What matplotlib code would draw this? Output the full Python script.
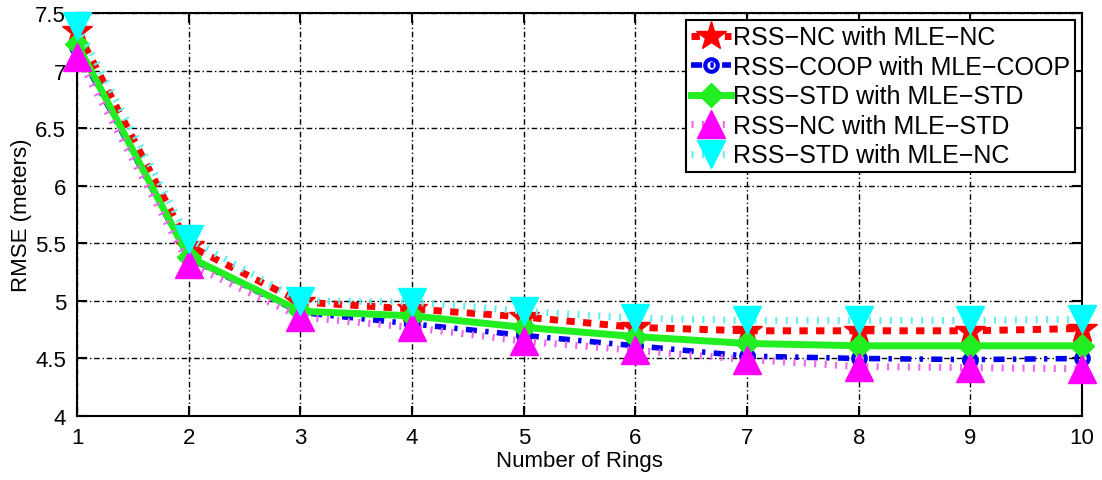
import numpy as np
import matplotlib
matplotlib.use('Agg')
from matplotlib import pyplot as plt

plt.rcParams['font.family'] = ['Liberation Sans', 'DejaVu Sans']

rings = [1, 2, 3, 4, 5, 6, 7, 8, 9, 10]
rmse_nc_nc = [7.34, 5.48, 4.99, 4.93, 4.86, 4.77, 4.74, 4.74, 4.74, 4.76]
rmse_coop_coop = [7.20, 5.37, 4.90, 4.80, 4.70, 4.61, 4.52, 4.50, 4.49, 4.50]
rmse_std_std = [7.23, 5.38, 4.91, 4.87, 4.77, 4.69, 4.63, 4.61, 4.61, 4.61]
rmse_nc_std = [7.12, 5.32, 4.86, 4.77, 4.65, 4.57, 4.49, 4.43, 4.42, 4.41]
rmse_std_nc = [7.39, 5.54, 5.00, 4.99, 4.91, 4.85, 4.83, 4.83, 4.83, 4.84]
labels = ['RSS\u2212NC with MLE\u2212NC', 'RSS\u2212COOP with MLE\u2212COOP',
          'RSS\u2212STD with MLE\u2212STD', 'RSS\u2212NC with MLE\u2212STD',
          'RSS\u2212STD with MLE\u2212NC']

fig = plt.figure(figsize=(11.02, 4.81), dpi=100)
ax = fig.add_axes([0.070, 0.133, 0.912, 0.838])

ax.plot(rings, rmse_nc_nc, color='red', linestyle=(0, (1.2, 1.2)), linewidth=5,
        marker='*', markersize=22, label=labels[0], zorder=3, clip_on=False)
ax.plot(rings, rmse_coop_coop, color='#0000ee', linestyle=(0, (2, 1.5, 0.6, 1.5)), linewidth=4,
        marker='o', markersize=9, markeredgewidth=3, markerfacecolor='none', label=labels[1],
        zorder=3, clip_on=False)
ax.plot(rings, rmse_std_std, color='#22ee22', linestyle='-', linewidth=5,
        marker='D', markersize=12, label=labels[2], zorder=4, clip_on=False)
ax.plot(rings, rmse_nc_std, color='#ee66ee', linestyle=(0, (0.3, 1.2)), linewidth=5,
        marker='^', markersize=20, markerfacecolor='#ff00ff', markeredgecolor='#ff00ff',
        label=labels[3], zorder=5, clip_on=False)
ax.plot(rings, rmse_std_nc, color='#66eeee', linestyle=(0, (0.3, 1.2)), linewidth=5,
        marker='v', markersize=20, markerfacecolor='#00ffff', markeredgecolor='#00ffff',
        label=labels[4], zorder=5, clip_on=False)

ax.set_xlim(1, 10)
ax.set_ylim(4, 7.5)
ax.set_xticks(rings)
ax.set_yticks([4, 4.5, 5, 5.5, 6, 6.5, 7, 7.5])
ax.set_yticklabels(['4', '4.5', '5', '5.5', '6', '6.5', '7', '7.5'])
ax.grid(True, color='black', linestyle=(0, (1, 2, 4, 2)), linewidth=1.0)
ax.tick_params(direction='in', length=7, width=1.5, labelsize=16, top=True, right=True, pad=8)
for s in ax.spines.values():
    s.set_linewidth(1.5)
ax.set_xlabel('Number of Rings', fontsize=16, labelpad=1)
ax.set_ylabel('RMSE (meters)', fontsize=16, labelpad=2)

leg = ax.legend(loc='upper right', fontsize=18, handlelength=1.6, handletextpad=0.05,
                labelspacing=0.22, borderpad=0.2, borderaxespad=0.3, fancybox=False,
                framealpha=1, edgecolor='black')
leg.get_frame().set_linewidth(1.5)
leg.set_zorder(10)

fig.savefig('out.png', dpi=100)
